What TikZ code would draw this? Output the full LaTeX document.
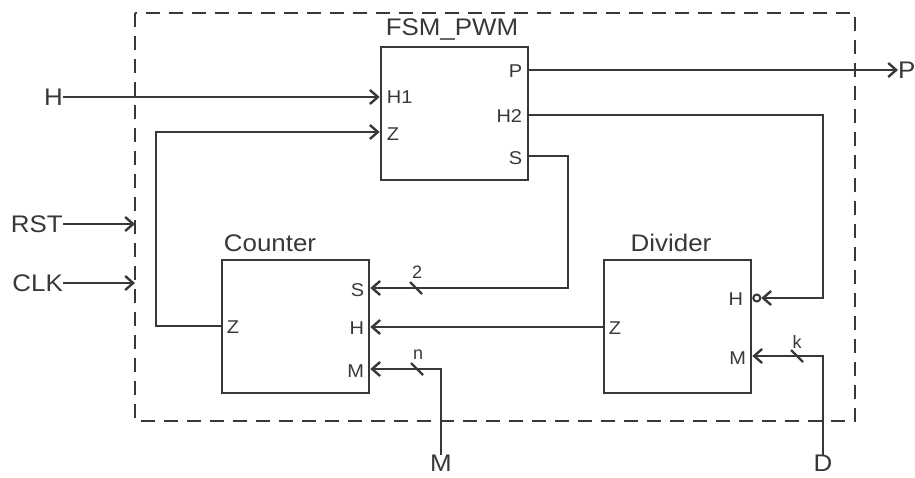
\documentclass[tikz,border=0pt]{standalone}
\usepackage{fontspec}
\setmainfont{Liberation Sans}
\usetikzlibrary{arrows.meta,calc}
\definecolor{ink}{HTML}{383838}
\begin{document}
\begin{tikzpicture}[x=1pt,y=-1pt,
  every node/.style={text=ink},
  blk/.style={draw=ink,line width=2.6pt,minimum width=147pt,minimum height=133pt,inner sep=0pt},
  big/.style={font=\fontsize{24}{27}\selectfont,inner sep=0pt},
  port/.style={font=\fontsize{18.5}{21}\selectfont,inner sep=0pt},
  small/.style={font=\fontsize{18}{20}\selectfont,inner sep=0pt},
  wire/.style={draw=ink,line width=2.6pt},
  arr/.style={wire,-{Straight Barb[length=8pt,width=14pt,line width=2.4pt]}},
  busmark/.style={draw=ink,line width=2.4pt}
]
\useasboundingbox (0,0) rectangle (915,477);
% dashed frame
\draw[draw=ink,line width=2.6pt,dash pattern=on 14pt off 9pt] (135,13) rectangle (855,421);

% blocks
\node[blk] (fsm) at (454.5,113.5) {};
\node[blk] (cnt) at (295.5,326.5) {};
\node[blk] (div) at (677.5,326.5) {};

\node[big] at (452,30) {\scalebox{1.08}[1]{FSM\_PWM}};
\node[big] at (270,243) {\scalebox{1.08}[1]{Counter}};
\node[big] at (671,243) {\scalebox{1.08}[1]{Divider}};

% port coordinates
\coordinate (fH1) at (fsm.west |- 0,97);
\coordinate (fZ) at (fsm.west |- 0,132);
\coordinate (fP) at (fsm.east |- 0,70);
\coordinate (fH2) at (fsm.east |- 0,115);
\coordinate (fS) at (fsm.east |- 0,156);
\coordinate (cS) at (cnt.east |- 0,288);
\coordinate (cH) at (cnt.east |- 0,327);
\coordinate (cM) at (cnt.east |- 0,369);
\coordinate (cZ) at (cnt.west |- 0,326);
\coordinate (dH) at (div.east |- 0,298);
\coordinate (dZ) at (div.west |- 0,327);
\coordinate (dM) at (div.east |- 0,356);

% port labels
\node[port,anchor=west] at ($(fH1)+(7,0)$) {\scalebox{1.08}[1]{H1}};
\node[port,anchor=west] at ($(fZ)+(7,2)$) {\scalebox{1.08}[1]{Z}};
\node[port,anchor=east] at ($(fP)+(-7,1)$) {\scalebox{1.08}[1]{P}};
\node[port,anchor=east] at ($(fH2)+(-7,1)$) {\scalebox{1.08}[1]{H2}};
\node[port,anchor=east] at ($(fS)+(-7,2)$) {\scalebox{1.08}[1]{S}};
\node[port,anchor=east] at ($(cS)+(-6,2)$) {\scalebox{1.08}[1]{S}};
\node[port,anchor=east] at ($(cH)+(-6,1)$) {\scalebox{1.08}[1]{H}};
\node[port,anchor=east] at ($(cM)+(-6,2)$) {\scalebox{1.08}[1]{M}};
\node[port,anchor=west] at ($(cZ)+(6,1)$) {\scalebox{1.08}[1]{Z}};
\node[port,anchor=east] at ($(dH)+(-9,1)$) {\scalebox{1.08}[1]{H}};
\node[port,anchor=west] at ($(dZ)+(6,1)$) {\scalebox{1.08}[1]{Z}};
\node[port,anchor=east] at ($(dM)+(-6,2)$) {\scalebox{1.08}[1]{M}};

% external labels
\node[big,anchor=east] (Hin) at (63,97) {\scalebox{1.08}[1]{H}};
\node[big,anchor=east] (rst) at (63,224) {\scalebox{1.08}[1]{RST}};
\node[big,anchor=east] (clk) at (63,283) {\scalebox{1.08}[1]{CLK}};
\node[big,anchor=west] (Pout) at (898,70) {\scalebox{1.08}[1]{P}};
\node[big] (Min) at (441,463) {\scalebox{1.08}[1]{M}};
\node[big] (Din) at (823,463) {\scalebox{1.08}[1]{D}};
\coordinate (rstin) at (135,224);
\coordinate (clkin) at (135,283);

% connectors
\draw[arr] (Hin.east) -- (fH1);
\draw[arr] (rst.east) -- (rstin);
\draw[arr] (clk.east) -- (clkin);
\draw[arr] (fP) -- (Pout.west);
\draw[arr] (cZ) -| (156,200) |- (fZ);
\draw[arr] (fS) -| (568,200) |- (cS);
\draw[arr] (dZ) -- (cH);
\draw[arr] (Min.north) |- (cM);
\draw[arr] (Din.north) |- (dM);
\node[draw=ink,line width=2pt,circle,minimum size=7pt,inner sep=0pt,anchor=west] (bub) at (dH) {};
\draw[arr] (fH2) -| (823,200) |- (bub.east);

% bus marks
\draw[busmark] (410,282) -- (422,294);
\node[small] at (417,272) {2};
\draw[busmark] (411,363) -- (423,375);
\node[small] at (418,355) {n};
\draw[busmark] (791,350) -- (803,362);
\node[small] at (797,342) {k};
\end{tikzpicture}
\end{document}
